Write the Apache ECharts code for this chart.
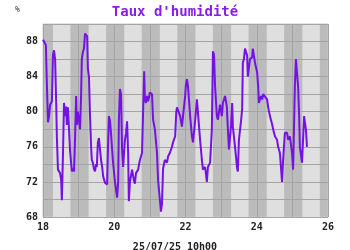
<!DOCTYPE html>
<html><head><meta charset="utf-8">
<script src="https://cdn.jsdelivr.net/npm/echarts@6/dist/echarts.min.js"></script>
<style>html,body{margin:0;padding:0;background:#fff}#c{width:350px;height:250px}</style>
</head><body><div id="c"></div>
<script>
// Time (day of month, July 2025) and relative humidity (%)
const times = [18.00,18.03,18.08,18.11,18.14,18.17,18.20,18.22,18.25,18.28,18.31,18.34,18.37,18.39,18.42,18.48,18.51,18.53,18.56,18.59,18.62,18.65,18.67,18.70,18.73,18.76,18.81,18.84,18.87,18.90,18.93,18.95,18.98,19.01,19.04,19.07,19.09,19.12,19.15,19.18,19.21,19.24,19.26,19.29,19.32,19.35,19.37,19.40,19.43,19.46,19.49,19.51,19.54,19.57,19.60,19.63,19.66,19.69,19.74,19.80,19.82,19.85,19.88,19.91,19.96,20.02,20.08,20.11,20.13,20.16,20.19,20.22,20.25,20.27,20.30,20.33,20.36,20.39,20.41,20.44,20.50,20.55,20.58,20.61,20.67,20.72,20.78,20.81,20.84,20.86,20.89,20.92,20.95,20.97,21.00,21.03,21.06,21.09,21.14,21.20,21.23,21.28,21.31,21.34,21.37,21.42,21.48,21.51,21.56,21.62,21.65,21.71,21.74,21.76,21.79,21.85,21.90,21.93,21.99,22.01,22.04,22.07,22.13,22.18,22.21,22.27,22.32,22.35,22.41,22.46,22.49,22.55,22.60,22.63,22.69,22.74,22.77,22.80,22.83,22.88,22.91,22.97,23.02,23.05,23.11,23.16,23.19,23.22,23.28,23.31,23.33,23.39,23.45,23.47,23.50,23.56,23.59,23.61,23.64,23.67,23.70,23.73,23.75,23.81,23.87,23.89,23.95,24.01,24.04,24.06,24.12,24.15,24.18,24.23,24.29,24.32,24.37,24.43,24.46,24.51,24.57,24.60,24.65,24.71,24.74,24.79,24.85,24.88,24.93,24.99,25.02,25.05,25.07,25.10,25.13,25.16,25.19,25.21,25.27,25.30,25.33,25.35,25.38,25.41];
const humidity = [88.2,88.0,87.6,83.0,78.8,79.5,80.8,81.0,81.2,86.5,87.0,86.0,81.0,77.0,73.4,73.0,72.2,69.9,75.0,81.0,79.5,80.6,78.5,80.5,78.0,75.5,73.2,73.5,73.2,77.0,81.8,78.5,80.0,79.0,78.0,82.0,86.0,86.8,87.2,88.9,88.9,88.6,84.9,84.0,79.5,76.0,74.5,74.2,73.5,73.2,74.0,73.7,76.5,77.0,75.7,74.5,73.7,72.6,71.9,71.7,75.3,79.5,79.0,77.5,74.5,72.0,70.2,72.0,79.0,82.6,82.0,75.7,73.7,75.0,76.8,77.5,78.9,75.3,69.8,72.0,73.4,72.2,71.8,73.0,73.4,74.5,75.3,80.0,84.6,81.4,81.0,81.8,81.2,81.5,82.2,82.0,82.0,79.1,78.0,75.3,72.2,70.0,68.6,69.5,73.5,74.5,74.2,74.9,75.3,76.0,76.5,77.2,79.9,80.5,80.6,79.5,78.3,78.3,81.8,83.0,83.7,82.9,79.5,77.2,76.5,79.0,81.4,81.2,76.8,74.5,73.4,73.7,72.0,73.7,74.2,78.0,86.9,86.5,82.9,79.5,79.1,80.8,79.5,81.0,81.8,80.6,78.0,75.7,78.5,81.0,78.3,76.0,73.5,73.2,76.8,79.0,80.3,85.6,86.0,87.2,87.4,86.4,84.0,86.0,86.2,87.2,85.6,84.5,82.9,81.0,81.8,81.4,82.0,81.8,81.4,80.5,79.5,78.6,78.0,77.2,76.8,76.0,75.3,72.0,74.5,77.6,77.6,76.8,77.2,75.3,73.4,79.0,82.9,86.0,86.0,82.9,79.5,76.0,74.2,76.8,79.5,78.8,78.0,76.0];
// Daylight bands: day of month and daylight start/end as fraction of day
const days = [18,19,20,21,22,23,24,25];
const dayStart = 0.28, dayEnd = 0.77;
const xTicks = [18,20,22,24,26];
const yTicks = [68,72,76,80,84,88];
const titleText = "Taux d'humidité";
const unitText = "%";
const footerText = "25/07/25 10h00";

const FONT = '"DejaVu Sans Mono", monospace';
const chart = echarts.init(document.getElementById('c'), null, {renderer:'canvas'});
chart.setOption({
  animation: false,
  backgroundColor: '#ffffff',
  title: [
    {text: titleText, left: 'center', top: 0, textStyle:{fontFamily: FONT, fontWeight:'bold', fontSize: 14, color:'#8a1be8'}},
    {text: unitText, left: 10, top: 1, textStyle:{fontFamily: FONT, fontWeight:'normal', fontSize: 8, color:'#333'}},
    {text: footerText, left: 'center', top: 237, textStyle:{fontFamily: FONT, fontWeight:'bold', fontSize: 10, color:'#222'}}
  ],
  grid: {left: 43, top: 24, width: 285, height: 193, show: true, backgroundColor: '#bbbbbb', borderColor: '#c8c8c8', borderWidth: 1},
  xAxis: {
    type: 'value', min: 18, max: 26, interval: 1, z: 3,
    axisLine: {show: false}, axisTick: {show: false},
    splitLine: {show: true, lineStyle: {color: '#a4a4a4', width: 1}},
    axisLabel: {margin: 5, fontFamily: FONT, fontWeight: 'bold', fontSize: 10, color: '#222',
      formatter: v => xTicks.includes(v) ? String(v) : ''}
  },
  yAxis: {
    type: 'value', min: 68, max: 90, interval: 2, z: 3,
    axisLine: {show: false}, axisTick: {show: false},
    splitLine: {show: true, lineStyle: {color: '#a4a4a4', width: 1}},
    axisLabel: {margin: 5, fontFamily: FONT, fontWeight: 'bold', fontSize: 10, color: '#222',
      formatter: v => yTicks.includes(v) ? String(v) : ''}
  },
  series: [
    {type: 'line', data: [], z: 1, silent: true,
      markArea: {silent: true, itemStyle: {color: '#dfdfdf'},
        data: days.map(d => [{xAxis: d + dayStart}, {xAxis: d + dayEnd}])}},
    {type: 'line', z: 5, showSymbol: false, symbol: 'none',
      lineStyle: {color: '#7512e2', width: 2},
      data: times.map((t, i) => [t, humidity[i]])}
  ]
});
</script></body></html>
